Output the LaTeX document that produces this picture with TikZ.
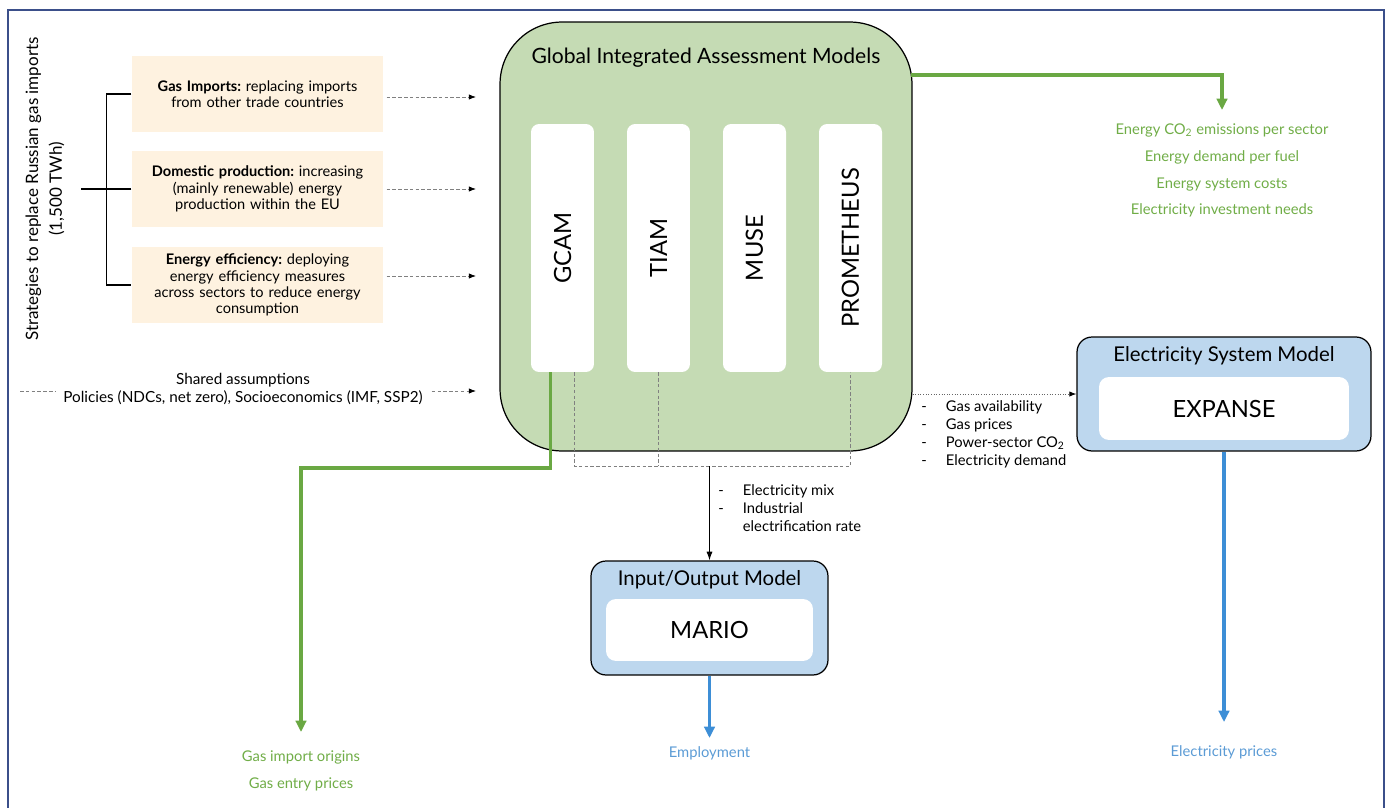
\documentclass[tikz,border=0pt]{standalone}
\usepackage{fontspec}
\setmainfont{Lato}
\usepackage{graphicx}
\usetikzlibrary{arrows.meta, positioning, calc}
\definecolor{iamgreen}{RGB}{197,219,180}
\definecolor{stratbg}{RGB}{254,242,224}
\definecolor{esmblue}{RGB}{189,215,238}
\definecolor{linegreen}{RGB}{106,168,67}
\definecolor{textgreen}{RGB}{112,173,71}
\definecolor{lineblue}{RGB}{61,142,214}
\definecolor{textblue}{RGB}{91,155,213}
\definecolor{framecol}{RGB}{59,79,138}
\frenchspacing

\begin{document}
\begin{tikzpicture}[x=0.02cm, y=-0.02cm,
    strat/.style={fill=stratbg, minimum width=5.02cm, minimum height=1.52cm, text width=4.8cm, align=center, font=\fontsize{8.3}{9.3}\selectfont},
    model/.style={fill=white, rounded corners=0.16cm, minimum width=1.26cm, minimum height=4.96cm, font=\fontsize{13.5}{15}\selectfont},
    modelbox/.style={draw, line width=0.7pt, fill=esmblue, rounded corners=0.3cm, minimum height=2.28cm},
    innerbox/.style={fill=white, rounded corners=0.2cm, font=\fontsize{13.5}{15}\selectfont},
    boxtitle/.style={font=\fontsize{11.6}{13}\selectfont},
    itemtxt/.style={align=left, inner sep=0pt, font=\fontsize{8.4}{10.2}\selectfont},
    greentxt/.style={text=textgreen, align=center, font=\fontsize{8.4}{15.3}\selectfont},
    bluetxt/.style={text=textblue, align=center, font=\fontsize{8.4}{15.3}\selectfont},
    dashline/.style={gray, line width=0.45pt, dash pattern=on 2pt off 1.3pt},
    dasharr/.style={dashline, -{Latex[color=black, length=4pt, width=3pt]}},
    dotarr/.style={gray!80!black, line width=0.5pt, densely dotted, -{Latex[color=black, length=4pt, width=3pt]}},
    greenarr/.style={linegreen, line width=2pt, -{Triangle[length=6.5pt, width=6pt]}},
    bluearr/.style={lineblue, line width=1.8pt, -{Triangle[length=6.5pt, width=6pt]}}]
    \useasboundingbox (0,0) rectangle (1387,808);
    \draw[framecol, line width=1.2pt] (8,10) rectangle (1384,830);

    \node[rotate=90, align=center, font=\fontsize{9.7}{13.6}\selectfont] (strtitle) at (45,189) {Strategies to replace Russian gas imports\\(1,500 TWh)};
    \node[strat] (gasimp) at (257.5,94) {\textbf{Gas Imports:} replacing imports\\from other trade countries};
    \node[strat] (domprod) at (257.5,189) {\textbf{Domestic production:} increasing\\(mainly renewable) energy\\production within the EU};
    \node[strat] (effic) at (257.5,285) {\textbf{Energy efficiency:} deploying\\energy efficiency measures\\across sectors to reduce energy\\consumption};
    \draw[line width=0.8pt] (gasimp.west) -- ++(-25,0) |- (effic.west);
    \draw[line width=0.8pt] (domprod.west) -- ++(-50,0);

    \node[fill=iamgreen, draw, line width=0.7pt, rounded corners=1.24cm, minimum width=8.24cm, minimum height=8.58cm] (iam) at (706,236.5) {};
    \node[font=\fontsize{12}{14}\selectfont] (iamtitle) at (706,58) {Global Integrated Assessment Models};
    \node[model] (gcam) at (562.5,248) {\rotatebox{90}{GCAM}};
    \node[model] (tiam) at (658.5,248) {\rotatebox{90}{TIAM}};
    \node[model] (muse) at (754.5,248) {\rotatebox{90}{MUSE}};
    \node[model] (prom) at (850.5,248) {\rotatebox{90}{PROMETHEUS}};

    \coordinate (in1) at (476,97);
    \coordinate (in2) at (476,189);
    \coordinate (in3) at (476,276);
    \coordinate (in4) at (476,391);
    \draw[dasharr] ($(gasimp.east |- in1)+(3,0)$) -- (in1);
    \draw[dasharr] ($(domprod.east |- in2)+(3,0)$) -- (in2);
    \draw[dasharr] ($(effic.east |- in3)+(3,0)$) -- (in3);

    \node[align=center, inner sep=5pt, font=\fontsize{8.7}{10.4}\selectfont] (shared) at (243,389) {Shared assumptions\\Policies (NDCs, net zero), Socioeconomics (IMF, SSP2)};
    \coordinate (sl) at (20,391);
    \draw[dashline] (sl) -- ++(35,0);
    \draw[dasharr] (shared.east |- in4) -- (in4);

    \coordinate (gstart) at (911,75);
    \coordinate (eout) at (1222,110);
    \draw[greenarr] (gstart) -| (eout);
    \node[greentxt] (energyout) at (1222,170.5) {Energy CO\textsubscript{2} emissions per sector\\Energy demand per fuel\\Energy system costs\\Electricity investment needs};

    \node[modelbox, minimum width=5.88cm] (esm) at (1224,394) {};
    \node[boxtitle] (esmtitle) at (1224,356) {Electricity System Model};
    \node[innerbox, minimum width=5cm, minimum height=1.26cm] (expanse) at (1224,408.5) {EXPANSE};
    \draw[dotarr] (esm.west -| iam.east) -- (esm.west);
    \node[itemtxt, anchor=west] (esmin) at (921,434) {\makebox[14pt][l]{-}Gas availability\\\makebox[14pt][l]{-}Gas prices\\\makebox[14pt][l]{-}Power-sector CO\textsubscript{2}\\\makebox[14pt][l]{-}Electricity demand};

    \node[modelbox, minimum width=4.74cm] (io) at (709.5,618) {};
    \node[boxtitle] (iotitle) at (709.5,580) {Input/Output Model};
    \node[innerbox, minimum width=4.14cm, minimum height=1.24cm] (mario) at (709.5,630) {MARIO};

    \coordinate (mjoin) at (709.5,466);
    \draw[dashline] ($(gcam.south)+(11.5,0)$) |- (prom.south |- mjoin) -- (prom.south);
    \draw[dashline] (tiam.south) -- (tiam.south |- mjoin);
    \draw[line width=0.6pt, -{Latex[length=5pt, width=3.5pt]}] (mjoin) -- (io.north);
    \node[itemtxt, anchor=west] (ioin) at (718,508.5) {\makebox[14pt][l]{-}Electricity mix\\\makebox[14pt][l]{-}Industrial\\\makebox[14pt][l]{}electrification rate};

    \coordinate (gbend) at (301,468);
    \coordinate (gout) at (301,732);
    \draw[greenarr] ($(gcam.south)+(-12,0)$) |- (gbend) -- (gout);
    \node[greentxt] (gasout) at (301,770.5) {Gas import origins\\Gas entry prices};

    \coordinate (empout) at (709.5,738);
    \draw[bluearr] (io.south) -- (empout);
    \node[bluetxt] (emp) at (709.5,753) {Employment};
    \coordinate (priceout) at (1224,722);
    \draw[bluearr] (esm.south) -- (priceout);
    \node[bluetxt] (prices) at (1224,752) {Electricity prices};
\end{tikzpicture}
\end{document}
